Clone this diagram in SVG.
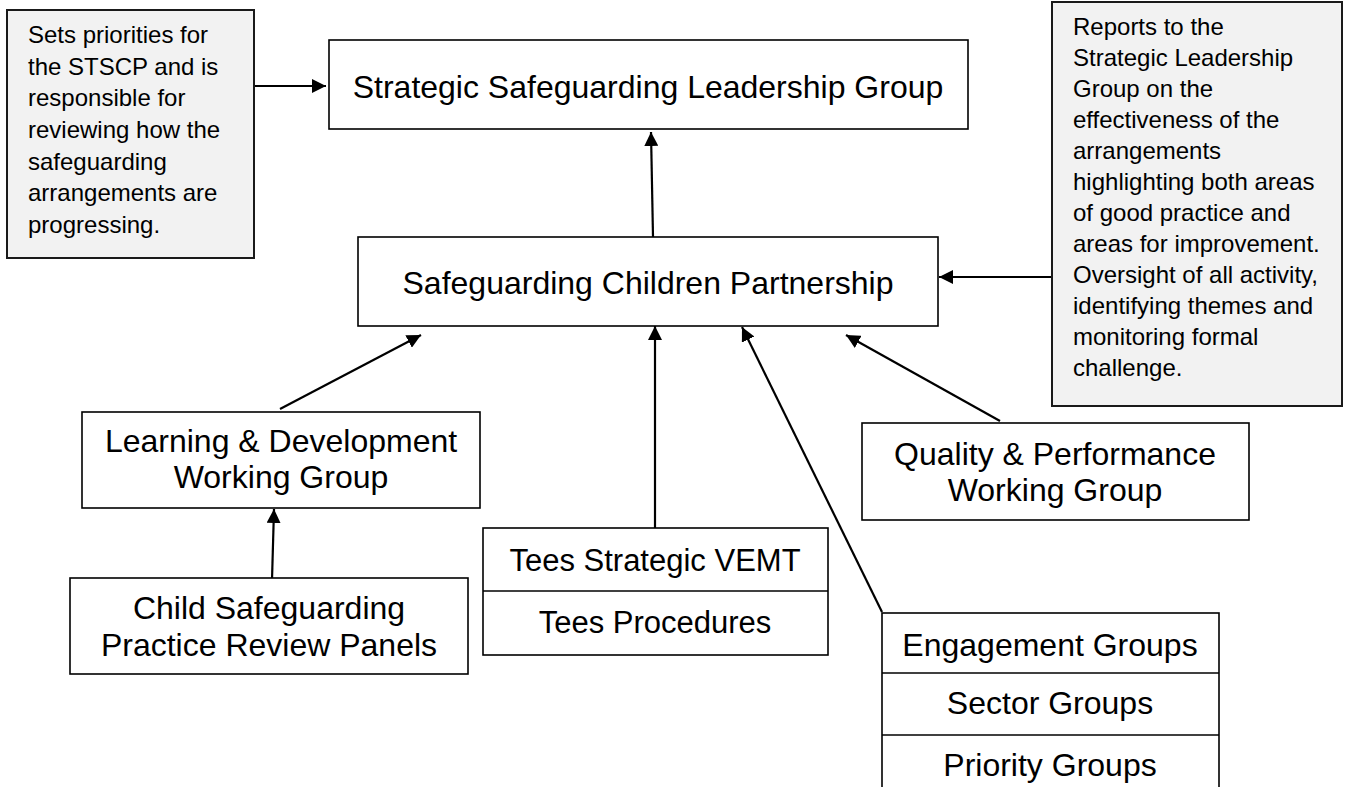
<svg xmlns="http://www.w3.org/2000/svg" width="1346" height="787" viewBox="0 0 1346 787">
<style>
.box{fill:#ffffff;stroke:#000000;stroke-width:1.6}
.note{fill:#f2f2f2;stroke:#1a1a1a;stroke-width:2}
.t{font-family:"Liberation Sans",Arial,sans-serif;font-size:32px;fill:#000000;text-anchor:middle}
.t31{font-size:31px}
.n{font-family:"Liberation Sans",Arial,sans-serif;font-size:24px;fill:#000000}
.c{stroke:#000000;stroke-width:2.2;fill:none;marker-end:url(#ah)}
</style>
<defs>
<marker id="ah" markerUnits="userSpaceOnUse" viewBox="0 0 14 14" refX="14" refY="7" markerWidth="14" markerHeight="14" orient="auto">
<path d="M0,0 L14,7 L0,14 z" fill="#000000"/>
</marker>
</defs>
<g id="connectors">
<line class="c" x1="254" y1="86" x2="326" y2="86"/>
<line class="c" x1="653" y1="237" x2="651" y2="132"/>
<line class="c" x1="1053" y1="277" x2="939" y2="277"/>
<line class="c" x1="280" y1="409" x2="421" y2="335"/>
<line class="c" x1="272" y1="580" x2="274" y2="509"/>
<line class="c" x1="655" y1="528" x2="655" y2="326"/>
<line class="c" x1="882" y1="612" x2="742" y2="327"/>
<line class="c" x1="1000" y1="421" x2="846" y2="335"/>
</g>
<g id="note-left">
<rect class="note" x="7" y="10" width="247" height="248"/>
<text class="n" x="28" y="43">Sets priorities for</text>
<text class="n" x="28" y="75">the STSCP and is</text>
<text class="n" x="28" y="106">responsible for</text>
<text class="n" x="28" y="138">reviewing how the</text>
<text class="n" x="28" y="170">safeguarding</text>
<text class="n" x="28" y="201">arrangements are</text>
<text class="n" x="28" y="233">progressing.</text>
</g>
<g id="note-right">
<rect class="note" x="1052" y="2" width="290" height="404"/>
<text class="n" x="1073" y="35">Reports to the</text>
<text class="n" x="1073" y="66">Strategic Leadership</text>
<text class="n" x="1073" y="97">Group on the</text>
<text class="n" x="1073" y="128">effectiveness of the</text>
<text class="n" x="1073" y="159">arrangements</text>
<text class="n" x="1073" y="190">highlighting both areas</text>
<text class="n" x="1073" y="221">of good practice and</text>
<text class="n" x="1073" y="252">areas for improvement.</text>
<text class="n" x="1073" y="283">Oversight of all activity,</text>
<text class="n" x="1073" y="314">identifying themes and</text>
<text class="n" x="1073" y="345">monitoring formal</text>
<text class="n" x="1073" y="376">challenge.</text>
</g>
<g id="strategic">
<rect class="box" x="329" y="40" width="639" height="89"/>
<text class="t" x="648" y="98">Strategic Safeguarding Leadership Group</text>
</g>
<g id="scp">
<rect class="box" x="358" y="237" width="580" height="89"/>
<text class="t" x="648" y="294">Safeguarding Children Partnership</text>
</g>
<g id="ld">
<rect class="box" x="82" y="412" width="398" height="96"/>
<text class="t" x="281" y="452">Learning &amp; Development</text>
<text class="t" x="281" y="488">Working Group</text>
</g>
<g id="cspr">
<rect class="box" x="70" y="578" width="398" height="96"/>
<text class="t" x="269" y="619">Child Safeguarding</text>
<text class="t" x="269" y="656">Practice Review Panels</text>
</g>
<g id="tees">
<rect class="box" x="483" y="528" width="345" height="127"/>
<line x1="483" y1="591" x2="828" y2="591" stroke="#000" stroke-width="1.6"/>
<text class="t t31" x="655" y="571">Tees Strategic VEMT</text>
<text class="t t31" x="655" y="633">Tees Procedures</text>
</g>
<g id="qp">
<rect class="box" x="862" y="423" width="387" height="97"/>
<text class="t" x="1055" y="465">Quality &amp; Performance</text>
<text class="t" x="1055" y="501">Working Group</text>
</g>
<g id="groups">
<rect class="box" x="882" y="613" width="337" height="200"/>
<line x1="882" y1="673" x2="1219" y2="673" stroke="#000" stroke-width="1.6"/>
<line x1="882" y1="735" x2="1219" y2="735" stroke="#000" stroke-width="1.6"/>
<text class="t" x="1050" y="656">Engagement Groups</text>
<text class="t" x="1050" y="714">Sector Groups</text>
<text class="t" x="1050" y="776">Priority Groups</text>
</g>
</svg>
